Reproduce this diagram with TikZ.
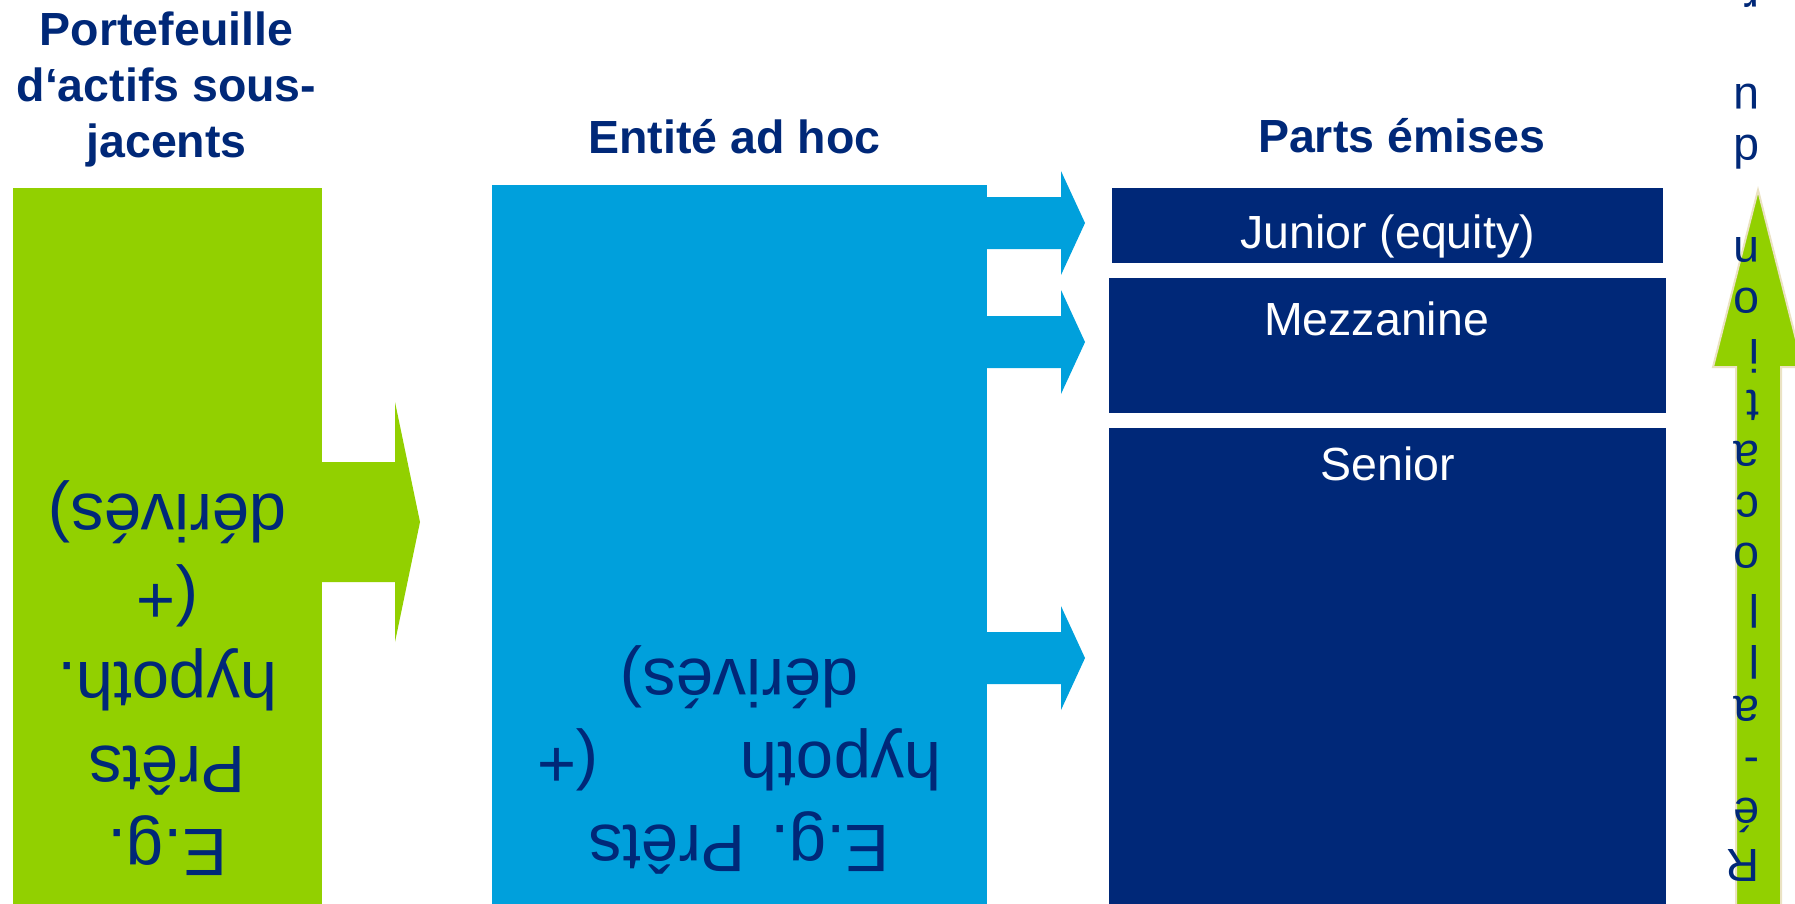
\documentclass[tikz,border=0pt]{standalone}
\usepackage{fontspec}
\setmainfont{Liberation Sans}
\definecolor{limegreen}{RGB}{146,208,0}
\definecolor{spvblue}{RGB}{0,160,220}
\definecolor{navy}{RGB}{0,40,120}
\definecolor{cream}{RGB}{235,226,195}
\newcommand\blockarrow[7]{%
  \fill[#1] (#2,#3-#6) -- (#4,#3-#6) -- (#4,#3-#7) -- (#5,#3) -- (#4,#3+#7) -- (#4,#3+#6) -- (#2,#3+#6) -- cycle;}
\begin{document}
\begin{tikzpicture}[x=1pt,y=-1pt,
  box/.style={inner sep=0pt, outer sep=0pt, anchor=north west},
  titletext/.style={inner sep=0pt, text=navy, font=\fontsize{46.5}{56}\selectfont\bfseries, align=center},
  tranche/.style={inner sep=0pt, text=white, font=\fontsize{46.5}{56}\selectfont, anchor=base},
  flipped/.style={inner sep=0pt, text=navy, rotate=180, align=center, anchor=north},
  vertletters/.style={inner sep=0pt, text=navy, rotate=180, align=left, anchor=north west, font=\fontsize{46.5}{51}\selectfont}]
\useasboundingbox (0,0) rectangle (1795,903);
\begin{scope}
\clip (0,0) rectangle (1795,903);
% boxes
\node[box, fill=limegreen, minimum width=309pt, minimum height=720pt] (pf) at (13,188) {};
\node[box, fill=spvblue, minimum width=495pt, minimum height=720pt] (spv) at (492,185) {};
\node[box, fill=navy, minimum width=551pt, minimum height=75pt] (jr) at (1112,188) {};
\node[box, fill=navy, minimum width=557pt, minimum height=135pt] (mz) at (1109,278) {};
\node[box, fill=navy, minimum width=557pt, minimum height=480pt] (sr) at (1109,428) {};
% block arrows
\blockarrow{limegreen}{322}{522}{395}{420}{60}{120}
\blockarrow{spvblue}{987}{223}{1061}{1085}{26}{52}
\blockarrow{spvblue}{987}{342}{1061}{1085}{26}{52}
\blockarrow{spvblue}{987}{658}{1061}{1085}{26}{52}
% vertical arrow
\filldraw[fill=limegreen, draw=cream, line width=2pt]
  (1736,912) -- (1736,367) -- (1713,367) -- (1758,190) -- (1803,367) -- (1781,367) -- (1781,912) -- cycle;
% titles
\node[titletext, anchor=north] (t1) at (166.5,5.8) {Portefeuille\strut\\d‘actifs sous-\strut\\jacents\strut};
\node[titletext, anchor=base] (t2) at (734.5,153) {Entité ad hoc};
\node[titletext, anchor=base] (t3) at (1401.5,152) {Parts émises};
% tranche labels
\node[tranche] (ljr) at (1387.5,248) {Junior (equity)};
\node[tranche] (lmz) at (1376.5,335) {Mezzanine};
\node[tranche] (lsr) at (1387.5,480) {Senior};
% upside-down texts
\node[flipped, font=\fontsize{67}{83.75}\selectfont] (pftext) at (167.5,888.6)
  {E.g.\strut\\Prêts\strut\\hypoth.\strut\\(+\strut\\dérivés)\strut};
\node[flipped, font=\fontsize{67}{83}\selectfont] (spvtext) at (739.5,884.1)
  {E.g. Prêts\strut\\hypoth\hspace*{142pt}(+\strut\\dérivés)\strut};
\node[vertletters] (realloc) at (1760,885.7)
  {R\strut\\é\strut\\-\strut\\a\strut\\l\strut\\l\strut\\o\strut\\c\strut\\a\strut\\t\strut\\i\strut\\o\strut\\n\strut\\\strut\\d\strut\\u\strut\\\strut\\r\strut};
\end{scope}
\end{tikzpicture}
\end{document}
